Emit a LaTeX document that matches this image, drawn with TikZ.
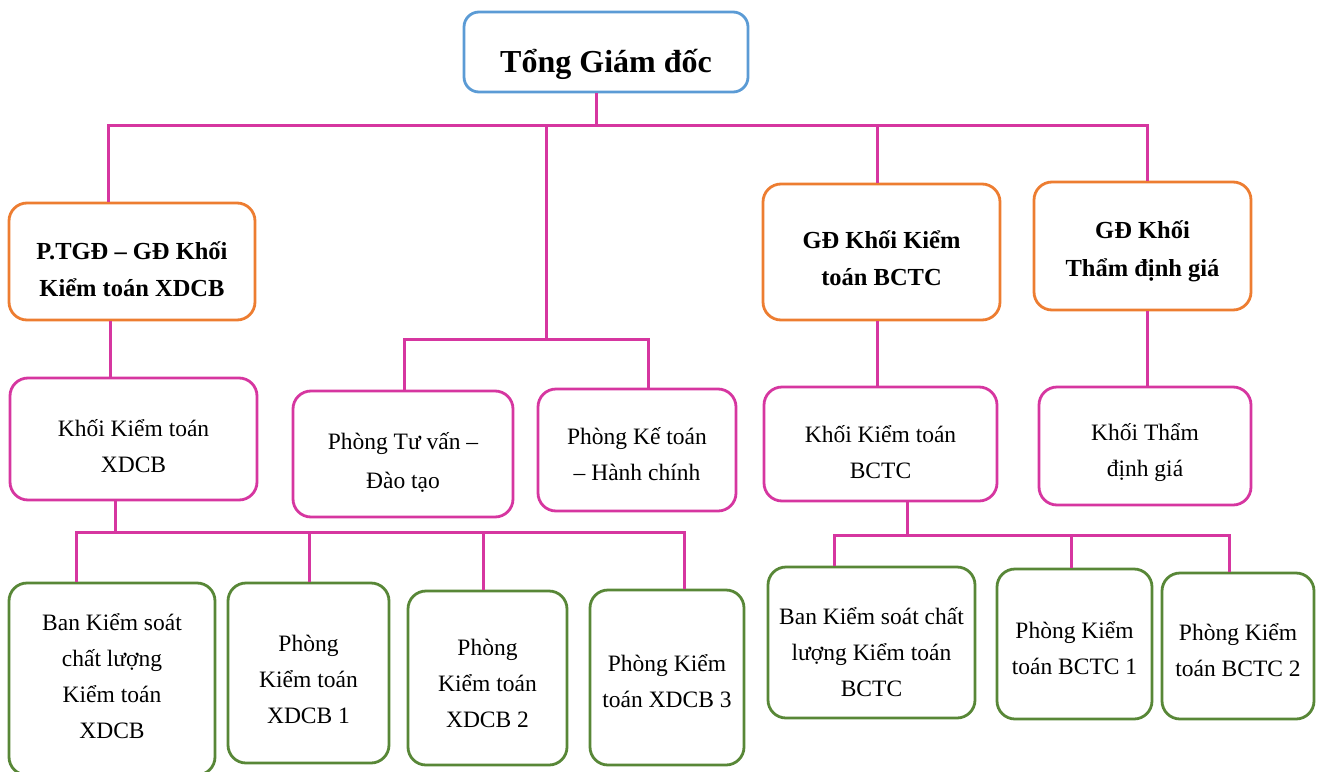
\documentclass[tikz,border=0pt]{standalone}
\usepackage{fontspec}
\setmainfont{Liberation Serif}
\definecolor{linkpink}{RGB}{214,54,160}
\definecolor{boxblue}{RGB}{91,155,213}
\definecolor{boxorange}{RGB}{237,125,49}
\definecolor{boxgreen}{RGB}{88,135,55}
\begin{document}
\begin{tikzpicture}[x=1pt,y=-1pt,
  box/.style={rectangle, rounded corners=18pt, line width=2.8pt, inner sep=0pt, fill=white},
  topbox/.style={box, draw=boxblue, rounded corners=15pt},
  headbox/.style={box, draw=boxorange},
  unitbox/.style={box, draw=linkpink},
  teambox/.style={box, draw=boxgreen},
  titletxt/.style={inner sep=0pt, text=black, font=\fontsize{32}{38}\selectfont\bfseries},
  headtxt/.style={inner sep=0pt, align=center, text=black, font=\fontsize{24.5}{37.5}\selectfont\bfseries},
  bodytxt/.style={inner sep=0pt, align=center, text=black, font=\fontsize{23.5}{36}\selectfont},
  link/.style={draw=linkpink, line width=3pt, line join=miter}
]
\useasboundingbox (0,0) rectangle (1322,771);
\clip (0,0) rectangle (1322,771);

% ---- frames ----
\node[topbox, minimum width=284, minimum height=80] (tgd) at (606,52) {};

\node[headbox, minimum width=246, minimum height=117] (pg) at (132,261.5) {};
\node[headbox, minimum width=237, minimum height=136] (gb) at (881.5,252) {};
\node[headbox, minimum width=217, minimum height=128] (gt) at (1142.5,246) {};

\node[unitbox, minimum width=247, minimum height=122] (kx) at (133.5,439) {};
\node[unitbox, minimum width=220, minimum height=126] (tv) at (403,454) {};
\node[unitbox, minimum width=198, minimum height=122] (kt) at (637,450) {};
\node[unitbox, minimum width=233, minimum height=114] (kb) at (880.5,444) {};
\node[unitbox, minimum width=212, minimum height=118] (kd) at (1145,446) {};

\node[teambox, minimum width=206, minimum height=192] (g1) at (112,679) {};
\node[teambox, minimum width=161, minimum height=180] (g2) at (308.5,673) {};
\node[teambox, minimum width=159, minimum height=174] (g3) at (487.5,678) {};
\node[teambox, minimum width=154, minimum height=175] (g4) at (667,677.5) {};

\node[teambox, minimum width=207, minimum height=151] (b1) at (871.5,642.5) {};
\node[teambox, minimum width=155, minimum height=150] (b2) at (1074.5,644) {};
\node[teambox, minimum width=152, minimum height=146] (b3) at (1238,646) {};

% ---- labels ----
\node[titletxt] (tgd-t) at (606,64) {Tổng Giám đốc};

\node[headtxt] (pg-t) at (132,269) {P.TGĐ – GĐ Khối\\Kiểm toán XDCB};
\node[headtxt] (gb-t) at (881.5,258) {GĐ Khối Kiểm\\toán BCTC};
\node[headtxt] (gt-t) at (1142.5,251.5) {GĐ Khối\\Thẩm định giá};

\node[bodytxt] (kx-t) at (133.5,446) {Khối Kiểm toán\\XDCB};
\node[bodytxt, font=\fontsize{23.5}{38.5}\selectfont] (tv-t) at (403,462.5) {Phòng Tư vấn –\\Đào tạo};
\node[bodytxt] (kt-t) at (637,454.5) {Phòng Kế toán\\– Hành chính};
\node[bodytxt] (kb-t) at (880.5,452) {Khối Kiểm toán\\BCTC};
\node[bodytxt] (kd-t) at (1145,452.5) {Khối Thẩm\\định giá};

\node[bodytxt] (g1-t) at (112,676) {Ban Kiểm soát\\chất lượng\\Kiểm toán\\XDCB};
\node[bodytxt] (g2-t) at (308.5,679.5) {Phòng\\Kiểm toán\\XDCB 1};
\node[bodytxt] (g3-t) at (487.5,683.5) {Phòng\\Kiểm toán\\XDCB 2};
\node[bodytxt] (g4-t) at (667,681.5) {Phòng Kiểm\\toán XDCB 3};

\node[bodytxt] (b1-t) at (871.5,652.5) {Ban Kiểm soát chất\\lượng Kiểm toán\\BCTC};
\node[bodytxt] (b2-t) at (1074.5,648.5) {Phòng Kiểm\\toán BCTC 1};
\node[bodytxt] (b3-t) at (1238,650) {Phòng Kiểm\\toán BCTC 2};

% ---- bus points ----
\coordinate (topL) at (108,125);
\coordinate (topR) at (1147,125);
\coordinate (topC) at (596,125);
\coordinate (topM) at (546,125);
\coordinate (topB) at (877,125);

\coordinate (midM) at (546,339);
\coordinate (midL) at (404,339);
\coordinate (midR) at (648,339);

\coordinate (xStem) at (110,0);
\coordinate (xFoot) at (115,532);
\coordinate (xL) at (76,532);
\coordinate (x2) at (309,532);
\coordinate (x3) at (483,532);
\coordinate (xR) at (684,532);

\coordinate (bFoot) at (907,535);
\coordinate (bL) at (834,535);
\coordinate (b2c) at (1071,535);
\coordinate (bR) at (1229,535);

% ---- connectors: top level ----
\draw[link] (topC |- tgd.south) -- (topC);
\draw[link] (topL |- pg.north) -- (topL) -- (topR) -- (topR |- gt.north);
\draw[link] (topM) -- (midM);
\draw[link] (topB) -- (topB |- gb.north);

% support offices
\draw[link] (midL |- tv.north) -- (midL) -- (midR) -- (midR |- kt.north);

% XDCB branch
\draw[link] (xStem |- pg.south) -- (xStem |- kx.north);
\draw[link] (xFoot |- kx.south) -- (xFoot);
\draw[link] (xL |- g1.north) -- (xL) -- (xR) -- (xR |- g4.north);
\draw[link] (x2) -- (x2 |- g2.north);
\draw[link] (x3) -- (x3 |- g3.north);

% BCTC branch
\draw[link] (topB |- gb.south) -- (topB |- kb.north);
\draw[link] (bFoot |- kb.south) -- (bFoot);
\draw[link] (bL |- b1.north) -- (bL) -- (bR) -- (bR |- b3.north);
\draw[link] (b2c) -- (b2c |- b2.north);

% valuation branch
\draw[link] (topR |- gt.south) -- (topR |- kd.north);
\end{tikzpicture}
\end{document}
